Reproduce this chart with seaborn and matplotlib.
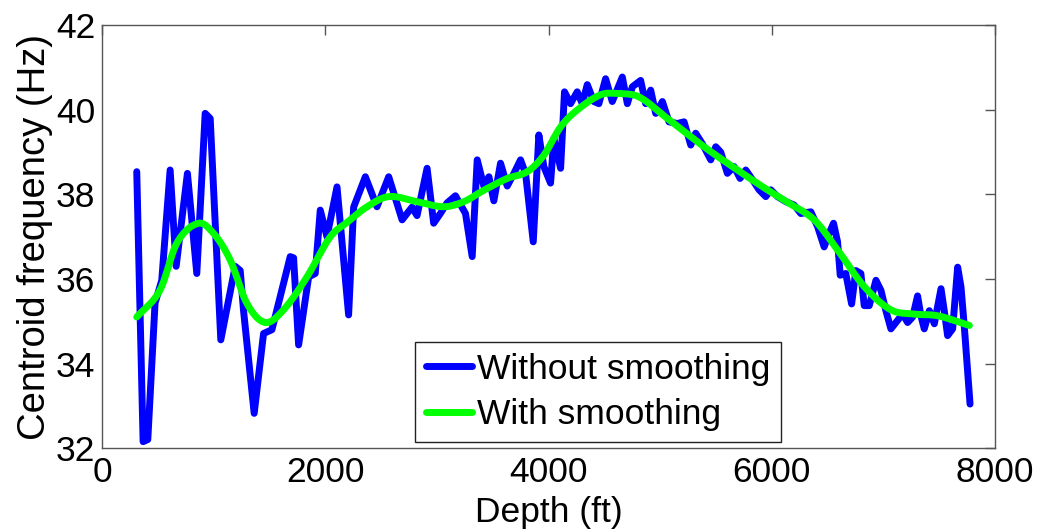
import numpy as np
import pandas as pd
import matplotlib
matplotlib.use("Agg")
import matplotlib.pyplot as plt
import seaborn as sns

# Raw (without smoothing) series
raw_depth = [311, 368, 410, 475, 535, 610, 664, 765, 849, 924, 969, 1064, 1193, 1238, 1267,
             1363, 1447, 1522, 1686, 1716, 1761, 1851, 1910, 1955, 2015, 2105, 2209, 2254,
             2359, 2463, 2568, 2688, 2777, 2822, 2912, 2971, 3031, 3091, 3166, 3256, 3316,
             3361, 3420, 3466, 3510, 3570, 3630, 3690, 3749, 3794, 3863, 3913, 3958, 4018,
             4048, 4108, 4143, 4197, 4257, 4302, 4347, 4406, 4451, 4511, 4571, 4661, 4706,
             4751, 4825, 4870, 4915, 4960, 5020, 5079, 5154, 5214, 5274, 5318, 5378, 5453,
             5498, 5543, 5602, 5662, 5716, 5767, 5827, 5886, 5946, 5991, 6051, 6126, 6200,
             6260, 6350, 6410, 6469, 6514, 6553, 6589, 6613, 6663, 6715, 6753, 6798, 6828,
             6873, 6933, 6978, 7022, 7067, 7112, 7172, 7217, 7262, 7306, 7336, 7366, 7411,
             7456, 7516, 7545, 7575, 7620, 7665, 7695, 7725, 7776]
raw_freq = [38.54, 32.15, 32.2, 35.43, 35.97, 38.58, 36.3, 38.5, 36.13, 39.92, 39.8, 34.56,
            36.3, 36.2, 35.27, 32.82, 34.71, 34.8, 36.53, 36.5, 34.44, 36.05, 36.13, 37.63,
            37.0, 38.18, 35.15, 37.7, 38.42, 37.71, 38.42, 37.4, 37.7, 37.5, 38.62, 37.32,
            37.55, 37.8, 37.97, 37.55, 36.53, 38.82, 38.2, 38.42, 37.85, 38.74, 38.2, 38.5,
            38.82, 38.5, 36.88, 39.41, 38.66, 38.27, 39.33, 38.62, 40.43, 40.15, 40.43,
            40.15, 40.6, 40.2, 40.15, 40.74, 40.2, 40.78, 40.15, 40.55, 40.7, 40.15, 40.47,
            39.92, 40.2, 39.72, 39.68, 39.72, 39.17, 39.45, 39.2, 38.82, 39.13, 39.0, 38.5,
            38.66, 38.38, 38.58, 38.35, 38.11, 37.95, 38.11, 37.95, 37.83, 37.75, 37.55,
            37.59, 37.24, 36.76, 37.08, 37.32, 36.88, 36.09, 36.13, 35.41, 36.2, 36.13,
            35.37, 35.37, 35.97, 35.73, 35.25, 34.82, 34.97, 35.17, 34.97, 35.1, 35.6,
            35.13, 34.82, 35.25, 34.94, 35.77, 35.25, 34.66, 34.82, 36.28, 35.81, 34.86,
            33.04]

# Smoothed series
smooth_depth = [311, 520, 670, 864, 999, 1148, 1298, 1462, 1626, 1836, 2045, 2200, 2374,
                2568, 2822, 3061, 3241, 3420, 3630, 3809, 3958, 4108, 4257, 4466, 4616,
                4810, 5064, 5393, 5692, 5961, 6150, 6380, 6589, 6828, 7067, 7276, 7486, 7770]
smooth_freq = [35.1, 35.74, 36.85, 37.32, 37.08, 36.45, 35.42, 34.97, 35.27, 36.05, 37.0,
               37.35, 37.71, 37.95, 37.83, 37.71, 37.83, 38.1, 38.38, 38.54, 38.93, 39.6,
               40.0, 40.36, 40.39, 40.31, 39.8, 39.13, 38.58, 38.11, 37.8, 37.4, 36.69,
               35.82, 35.27, 35.17, 35.13, 34.9]

labels = ["Without smoothing", "With smoothing"]
x_ticks = [0, 2000, 4000, 6000, 8000]
y_ticks = [32, 34, 36, 38, 40, 42]

sns.set_theme(style="white")
plt.rcParams['font.family'] = ['Liberation Sans', 'DejaVu Sans']
plt.rcParams['text.color'] = 'black'
plt.rcParams['axes.labelcolor'] = 'black'
plt.rcParams['xtick.color'] = 'black'
plt.rcParams['ytick.color'] = 'black'

FS = 25.5

df_raw = pd.DataFrame({"Depth": raw_depth, "Freq": raw_freq})

sd = np.array(smooth_depth, dtype=float)
sf = np.array(smooth_freq, dtype=float)
fine_x = np.linspace(sd[0], sd[-1], 400)

def hermite(x, y, xs):
    out = np.empty_like(xs)
    for k, xv in enumerate(xs):
        i = np.searchsorted(x, xv) - 1
        i = min(max(i, 0), len(x) - 2)
        x0, x1 = x[i], x[i + 1]
        y0, y1 = y[i], y[i + 1]
        m0 = (y[i + 1] - y[i - 1]) / (x[i + 1] - x[i - 1]) if i > 0 else (y1 - y0) / (x1 - x0)
        m1 = (y[i + 2] - y[i]) / (x[i + 2] - x[i]) if i + 2 < len(x) else (y1 - y0) / (x1 - x0)
        h = x1 - x0
        t = (xv - x0) / h
        h00 = 2 * t**3 - 3 * t**2 + 1
        h10 = t**3 - 2 * t**2 + t
        h01 = -2 * t**3 + 3 * t**2
        h11 = t**3 - t**2
        out[k] = h00 * y0 + h10 * h * m0 + h01 * y1 + h11 * h * m1
    return out

df_s = pd.DataFrame({"Depth": fine_x, "Freq": hermite(sd, sf, fine_x)})

fig = plt.figure(figsize=(10.39, 5.31), dpi=100)
ax = fig.add_axes([0.0982, 0.1563, 0.8595, 0.7957])

sns.lineplot(data=df_raw, x="Depth", y="Freq", ax=ax, color="#0000ff", lw=5,
             label=labels[0], estimator=None, sort=False)
sns.lineplot(data=df_s, x="Depth", y="Freq", ax=ax, color="#00ff00", lw=5,
             label=labels[1], estimator=None, sort=False)

ax.set_xlim(0, 8000)
ax.set_ylim(32, 42)
ax.set_xticks(x_ticks)
ax.set_yticks(y_ticks)
ax.set_xticklabels([str(t) for t in x_ticks])
ax.set_yticklabels([str(t) for t in y_ticks])
ax.tick_params(direction="in", length=7, width=1, color="#555555", labelsize=FS,
               top=True, right=True, labelcolor="black")
ax.tick_params(axis="x", pad=6)
ax.tick_params(axis="y", pad=5)
for s in ax.spines.values():
    s.set_color("#555555")
    s.set_linewidth(1)
ax.set_xlabel("Depth (ft)", fontsize=FS, labelpad=5)
ax.set_ylabel("Centroid frequency (Hz)", fontsize=27.5, labelpad=2)

leg = ax.legend(loc="lower left", bbox_to_anchor=(0.3505, 0.015), fontsize=FS,
                frameon=True, fancybox=False, edgecolor="#222222", framealpha=1,
                handlelength=1.3, handletextpad=0.15, borderpad=0.3,
                labelspacing=0.35, borderaxespad=0)
leg.get_frame().set_linewidth(1)

fig.savefig("out.png", dpi=100)
